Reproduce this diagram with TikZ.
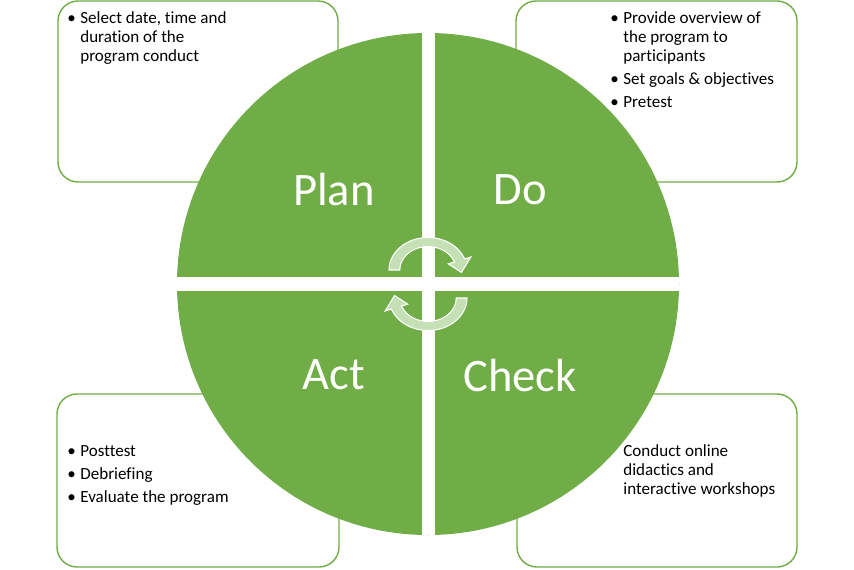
\documentclass[tikz,border=0pt]{standalone}
\usepackage{fontspec}
\setmainfont{Carlito}[Ligatures=NoCommon]
\definecolor{pdcagreen}{HTML}{70AD47}
\definecolor{arrowgreen}{HTML}{C5E0B4}
\tikzset{
  infobox/.style={draw=pdcagreen, line width=0.8pt, rounded corners=0.4cm, fill=white},
  itemtext/.style={anchor=north west, inner sep=0pt, align=left, font=\fontsize{9.7}{10.8}\selectfont},
  phase/.style={text=white, inner sep=0pt, font=\fontsize{26.5}{30}\selectfont},
  cyclearrow/.style={fill=arrowgreen, draw=white, line width=0.6pt}
}
\newcommand{\bul}{\llap{\textbullet\hspace{2.6pt}}}
\begin{document}
\begin{tikzpicture}[x=0.02cm,y=0.02cm]
\useasboundingbox (0,0) rectangle (854,569);
% boxes
\draw[infobox] (58,387) rectangle (338,568);
\draw[infobox] (516,387) rectangle (797,568);
\draw[infobox] (57,2) rectangle (339,175);
\draw[infobox] (517,2) rectangle (797,175);
\node[itemtext] (plantxt) at (80,557.5) {\bul Select date, time and\\ duration of the\\ program conduct};
\node[itemtext] (dotxt) at (623,557.5) {\bul Provide overview of\\ the program to\\ participants\\[2.3pt] \bul Set goals \& objectives\\[2.3pt] \bul Pretest};
\node[itemtext] (acttxt) at (80,124) {\bul Posttest\\[2.3pt] \bul Debriefing\\[2.3pt] \bul Evaluate the program};
\node[itemtext] (checktxt) at (623,125) {Conduct online\\ didactics and\\ interactive workshops};
% circle
\begin{scope}
\clip (428,285) circle[radius=251];
\fill[pdcagreen] (170,28) rectangle (686,542);
\fill[white] (421.5,0) rectangle (434.5,569);
\fill[white] (0,278) rectangle (854,292);
\end{scope}
\node[phase] (plan) at (334,379) {Plan};
\node[phase] (do) at (520,379) {Do};
\node[phase] (act) at (334,194) {Act};
\node[phase] (check) at (520,194) {Check};
% arrows
\begin{scope}[shift={(428,299)}, xscale=1.2]
\draw[cyclearrow] (180:32.5) arc[start angle=180, end angle=20, radius=32.5] -- (20:38) -- (-5:28) -- (20:18) -- (20:23.5) arc[start angle=20, end angle=180, radius=23.5] -- cycle;
\end{scope}
\begin{scope}[shift={(428,271)}, xscale=1.2, rotate=180]
\draw[cyclearrow] (180:32.5) arc[start angle=180, end angle=20, radius=32.5] -- (20:38) -- (-5:28) -- (20:18) -- (20:23.5) arc[start angle=20, end angle=180, radius=23.5] -- cycle;
\end{scope}
\end{tikzpicture}
\end{document}
